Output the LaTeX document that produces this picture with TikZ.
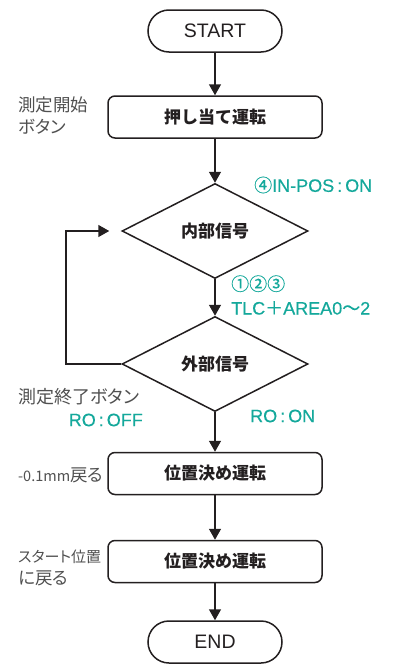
\documentclass[tikz,border=0pt]{standalone}
\usepackage{fontspec}
\setmainfont{Noto Sans CJK JP}
\newfontfamily\latinsans{Liberation Sans}
\newfontfamily\condlatin[FakeBold=0.4]{Liberation Sans}
\newfontfamily\condcjk[FakeBold=0.4]{Noto Sans CJK JP}
\newfontfamily\notefont[RawFeature={+palt}]{Noto Sans CJK JP}
\usetikzlibrary{shapes.geometric,arrows.meta}
\definecolor{teal1}{HTML}{14A89B}
\definecolor{gray1}{HTML}{505050}
\definecolor{ink}{HTML}{231F20}
\newcommand{\cj}[1]{{\condcjk #1}}
\tikzset{
  every picture/.style={x=1pt,y=-1pt},
  line/.style={draw=ink,line width=1.5pt},
  arr/.style={line,-{Triangle[length=11pt,width=12pt]}},
  terminal/.style={line,rounded corners=21pt,minimum width=134pt,minimum height=42pt,inner sep=0pt,font=\latinsans\fontsize{19.5}{22}\selectfont,text=ink},
  procbox/.style={line,rounded corners=7pt,minimum width=214pt,minimum height=42pt,inner sep=0pt,font=\bfseries\fontsize{17}{20}\selectfont,text=ink},
  decision/.style={line,diamond,minimum width=186pt,minimum height=95pt,inner sep=0pt,font=\bfseries\fontsize{17}{20}\selectfont,text=ink},
  note/.style={font=\notefont\fontsize{17.5}{22}\selectfont,text=gray1,align=left,inner sep=0pt},
  cond/.style={font=\condlatin\fontsize{18}{24}\selectfont,text=teal1,align=left,inner sep=0pt},
}
\begin{document}
\begin{tikzpicture}
\useasboundingbox (0,0) rectangle (395,664);
\node[terminal] (start) at (215,31) {START};
\node[procbox] (push) at (215,117) {押し当て運転};
\node[decision] (d1) at (215,231) {内部信号};
\node[decision] (d2) at (215,364) {外部信号};
\node[procbox] (pos1) at (215,473.5) {位置決め運転};
\node[procbox] (pos2) at (215,561.5) {位置決め運転};
\node[terminal] (end) at (215,642) {END};

\draw[arr] (start) -- (push);
\draw[arr] (push) -- (d1);
\draw[arr] (d1) -- (d2);
\draw[arr] (d2) -- (pos1);
\draw[arr] (pos1) -- (pos2);
\draw[arr] (pos2) -- (end);
\coordinate (lb) at (66,364);
\coordinate (lt) at (66,231);
\draw[arr,shorten >=12pt] (d2.west) -- (lb) -- (lt) -- (d1.west);

\node[note,anchor=west] (n1) at (18,116) {測定開始\\ボタン};
\node[note,anchor=west] (n2) at (18,397) {\fontsize{18}{22}\selectfont 測定終了ボタン};
\node[note,anchor=west] (n3) at (18,475) {{\fontsize{14.5}{22}\selectfont -0.1mm}戻る};
\node[note,anchor=west] (n4) at (18,568) {\fontsize{15}{22}\selectfont スタート位置\\に戻る};

\node[cond,anchor=west] (c1) at (254,185) {\cj{④}IN-POS\,:\,ON};
\node[cond,anchor=west] (c2) at (231,295) {\cj{①②③}\\TLC\cj{＋}AREA0\cj{～}2};
\node[cond,anchor=east] (c3) at (143,420) {RO\,:\,OFF};
\node[cond,anchor=west] (c4) at (250,416) {RO\,:\,ON};
\end{tikzpicture}
\end{document}
